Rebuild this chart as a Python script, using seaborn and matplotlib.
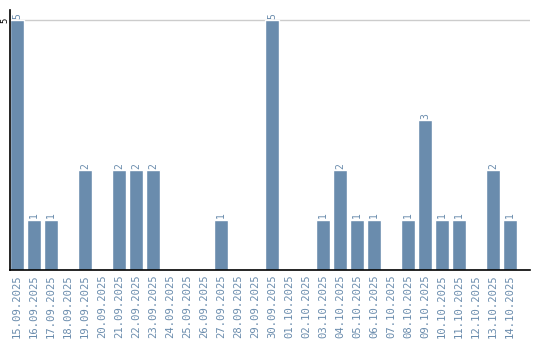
import matplotlib
matplotlib.use("Agg")
import matplotlib.pyplot as plt
import seaborn as sns
import pandas as pd

dates = ["15.09.2025", "16.09.2025", "17.09.2025", "18.09.2025", "19.09.2025",
         "20.09.2025", "21.09.2025", "22.09.2025", "23.09.2025", "24.09.2025",
         "25.09.2025", "26.09.2025", "27.09.2025", "28.09.2025", "29.09.2025",
         "30.09.2025", "01.10.2025", "02.10.2025", "03.10.2025", "04.10.2025",
         "05.10.2025", "06.10.2025", "07.10.2025", "08.10.2025", "09.10.2025",
         "10.10.2025", "11.10.2025", "12.10.2025", "13.10.2025", "14.10.2025"]
counts = [5, 1, 1, 0, 2, 0, 2, 2, 2, 0, 0, 0, 1, 0, 0,
          5, 0, 0, 1, 2, 1, 1, 0, 1, 3, 1, 1, 0, 2, 1]
y_ticks = [5]

df = pd.DataFrame({"date": dates, "count": counts})
bar_color = "#6a8cad"

sns.set_style("white")
fig = plt.figure(figsize=(5.4, 3.4), dpi=100)
ax = fig.add_axes([10 / 540, 70 / 340, 520 / 540, 260 / 340])

sns.barplot(data=df, x="date", y="count", color=bar_color, width=0.82,
            saturation=1, ax=ax, zorder=2)

ax.set_xlim(-0.41, 30.18)
ax.set_ylim(0, 5.2)
ax.set_yticks(y_ticks)
ax.set_yticklabels([str(v) for v in y_ticks], rotation=90, va="center",
                   fontsize=6.5, fontfamily="DejaVu Sans Mono", color="black")
ax.tick_params(axis="y", length=0, pad=0.5)
ax.tick_params(axis="x", length=0, pad=3)
ax.grid(axis="y", color="#cccccc", linewidth=1, zorder=0)
ax.set_axisbelow(True)

for lbl in ax.get_xticklabels():
    lbl.set_rotation(90)
    lbl.set_fontsize(7.6)
    lbl.set_fontfamily("DejaVu Sans Mono")
    lbl.set_color(bar_color)
    lbl.set_va("top")
    lbl.set_ha("center")

for i, v in enumerate(counts):
    if v > 0:
        ax.text(i, v + 0.03, str(v), rotation=90, ha="center", va="bottom",
                fontsize=7, fontfamily="DejaVu Sans Mono", color=bar_color)

ax.set_xlabel("")
ax.set_ylabel("")
for side in ["top", "right"]:
    ax.spines[side].set_visible(False)
ax.spines["left"].set_color("black")
ax.spines["bottom"].set_color("black")
ax.spines["left"].set_linewidth(1.2)
ax.spines["bottom"].set_linewidth(1.2)

fig.savefig("out.png", dpi=100)
